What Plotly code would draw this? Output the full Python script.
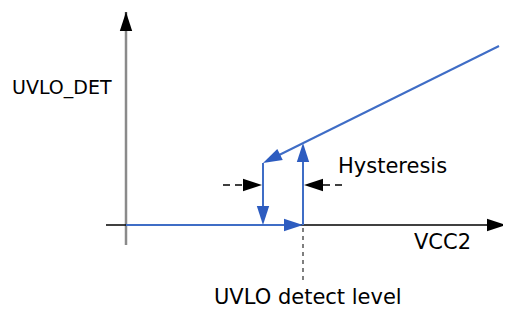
import plotly.graph_objects as go

# Schematic values (arbitrary units: VCC2 horizontally, UVLO_DET vertically)
detect_level = 177      # VCC2 where UVLO_DET rises
release_level = 137     # VCC2 where UVLO_DET falls back
vcc2_end = 373
det_low = 0
det_at_release = 62
det_at_detect = 82
det_at_end = 179

axis_x = [-20, 380]
axis_y = [-20, 213]

hyst_y = 40
hyst_left = [97, 136]
hyst_right = [216, 178]
level_line = [-3, -56]

labels = {
    "UVLO_DET": (-64, 138, 19),
    "Hysteresis": (266, 59, 21),
    "VCC2": (316, -17, 21),
    "UVLO detect level": (182, -72, 21),
}

BLUE = "#3F6DC6"
HEAD_BLUE = "#2D5CC0"
fig = go.Figure()


def arrow(xs, ys, color, width, size, dash="solid", head=True, head_color=None):
    fig.add_trace(go.Scatter(
        x=xs, y=ys, mode="lines+markers" if head else "lines",
        line=dict(color=color, width=width, dash=dash),
        marker=dict(symbol="arrow", size=[0] * (len(xs) - 1) + [size],
                    angleref="previous", color=head_color or color,
                    opacity=1, line=dict(width=0)),
        opacity=1, hoverinfo="skip", showlegend=False))


# axes
arrow([0, 0], axis_y, "#8a8a8a", 2.5, 0, head=False)
arrow([0, 0], [axis_y[1] - 10, axis_y[1]], "black", 1, 20)
arrow(axis_x, [0, 0], "black", 1.5, 20)

# hysteresis curve
arrow([0, detect_level], [det_low, det_low], BLUE, 2, 20, head_color=HEAD_BLUE)
arrow([detect_level, detect_level], [det_low, det_at_detect], BLUE, 2, 20, head_color=HEAD_BLUE)
arrow([vcc2_end, release_level], [det_at_end, det_at_release], BLUE, 2, 20, head_color=HEAD_BLUE)
arrow([release_level, release_level], [det_at_release, det_low], BLUE, 2, 20, head_color=HEAD_BLUE)

# hysteresis width arrows
arrow(hyst_left, [hyst_y, hyst_y], "black", 1.5, 20, dash="7px,5px")
arrow(hyst_right, [hyst_y, hyst_y], "black", 1.5, 20, dash="7px,5px")

# detect level marker
arrow([detect_level, detect_level], level_line, "#555555", 1.5, 0, dash="4px,4px", head=False)

for txt, (x, y, fs) in labels.items():
    fig.add_annotation(x=x, y=y, text=txt, showarrow=False,
                       xanchor="center", yanchor="middle",
                       font=dict(family="DejaVu Sans", size=fs, color="black"))

# page body has an 8px margin, so the axis ranges are offset to compensate
fig.update_layout(
    width=511, height=309, autosize=False,
    margin=dict(l=0, r=0, t=0, b=0),
    paper_bgcolor="white", plot_bgcolor="white",
    xaxis=dict(range=[-118, 393], visible=False, fixedrange=True),
    yaxis=dict(range=[-92, 217], visible=False, fixedrange=True),
)
fig.write_html("out.html")
